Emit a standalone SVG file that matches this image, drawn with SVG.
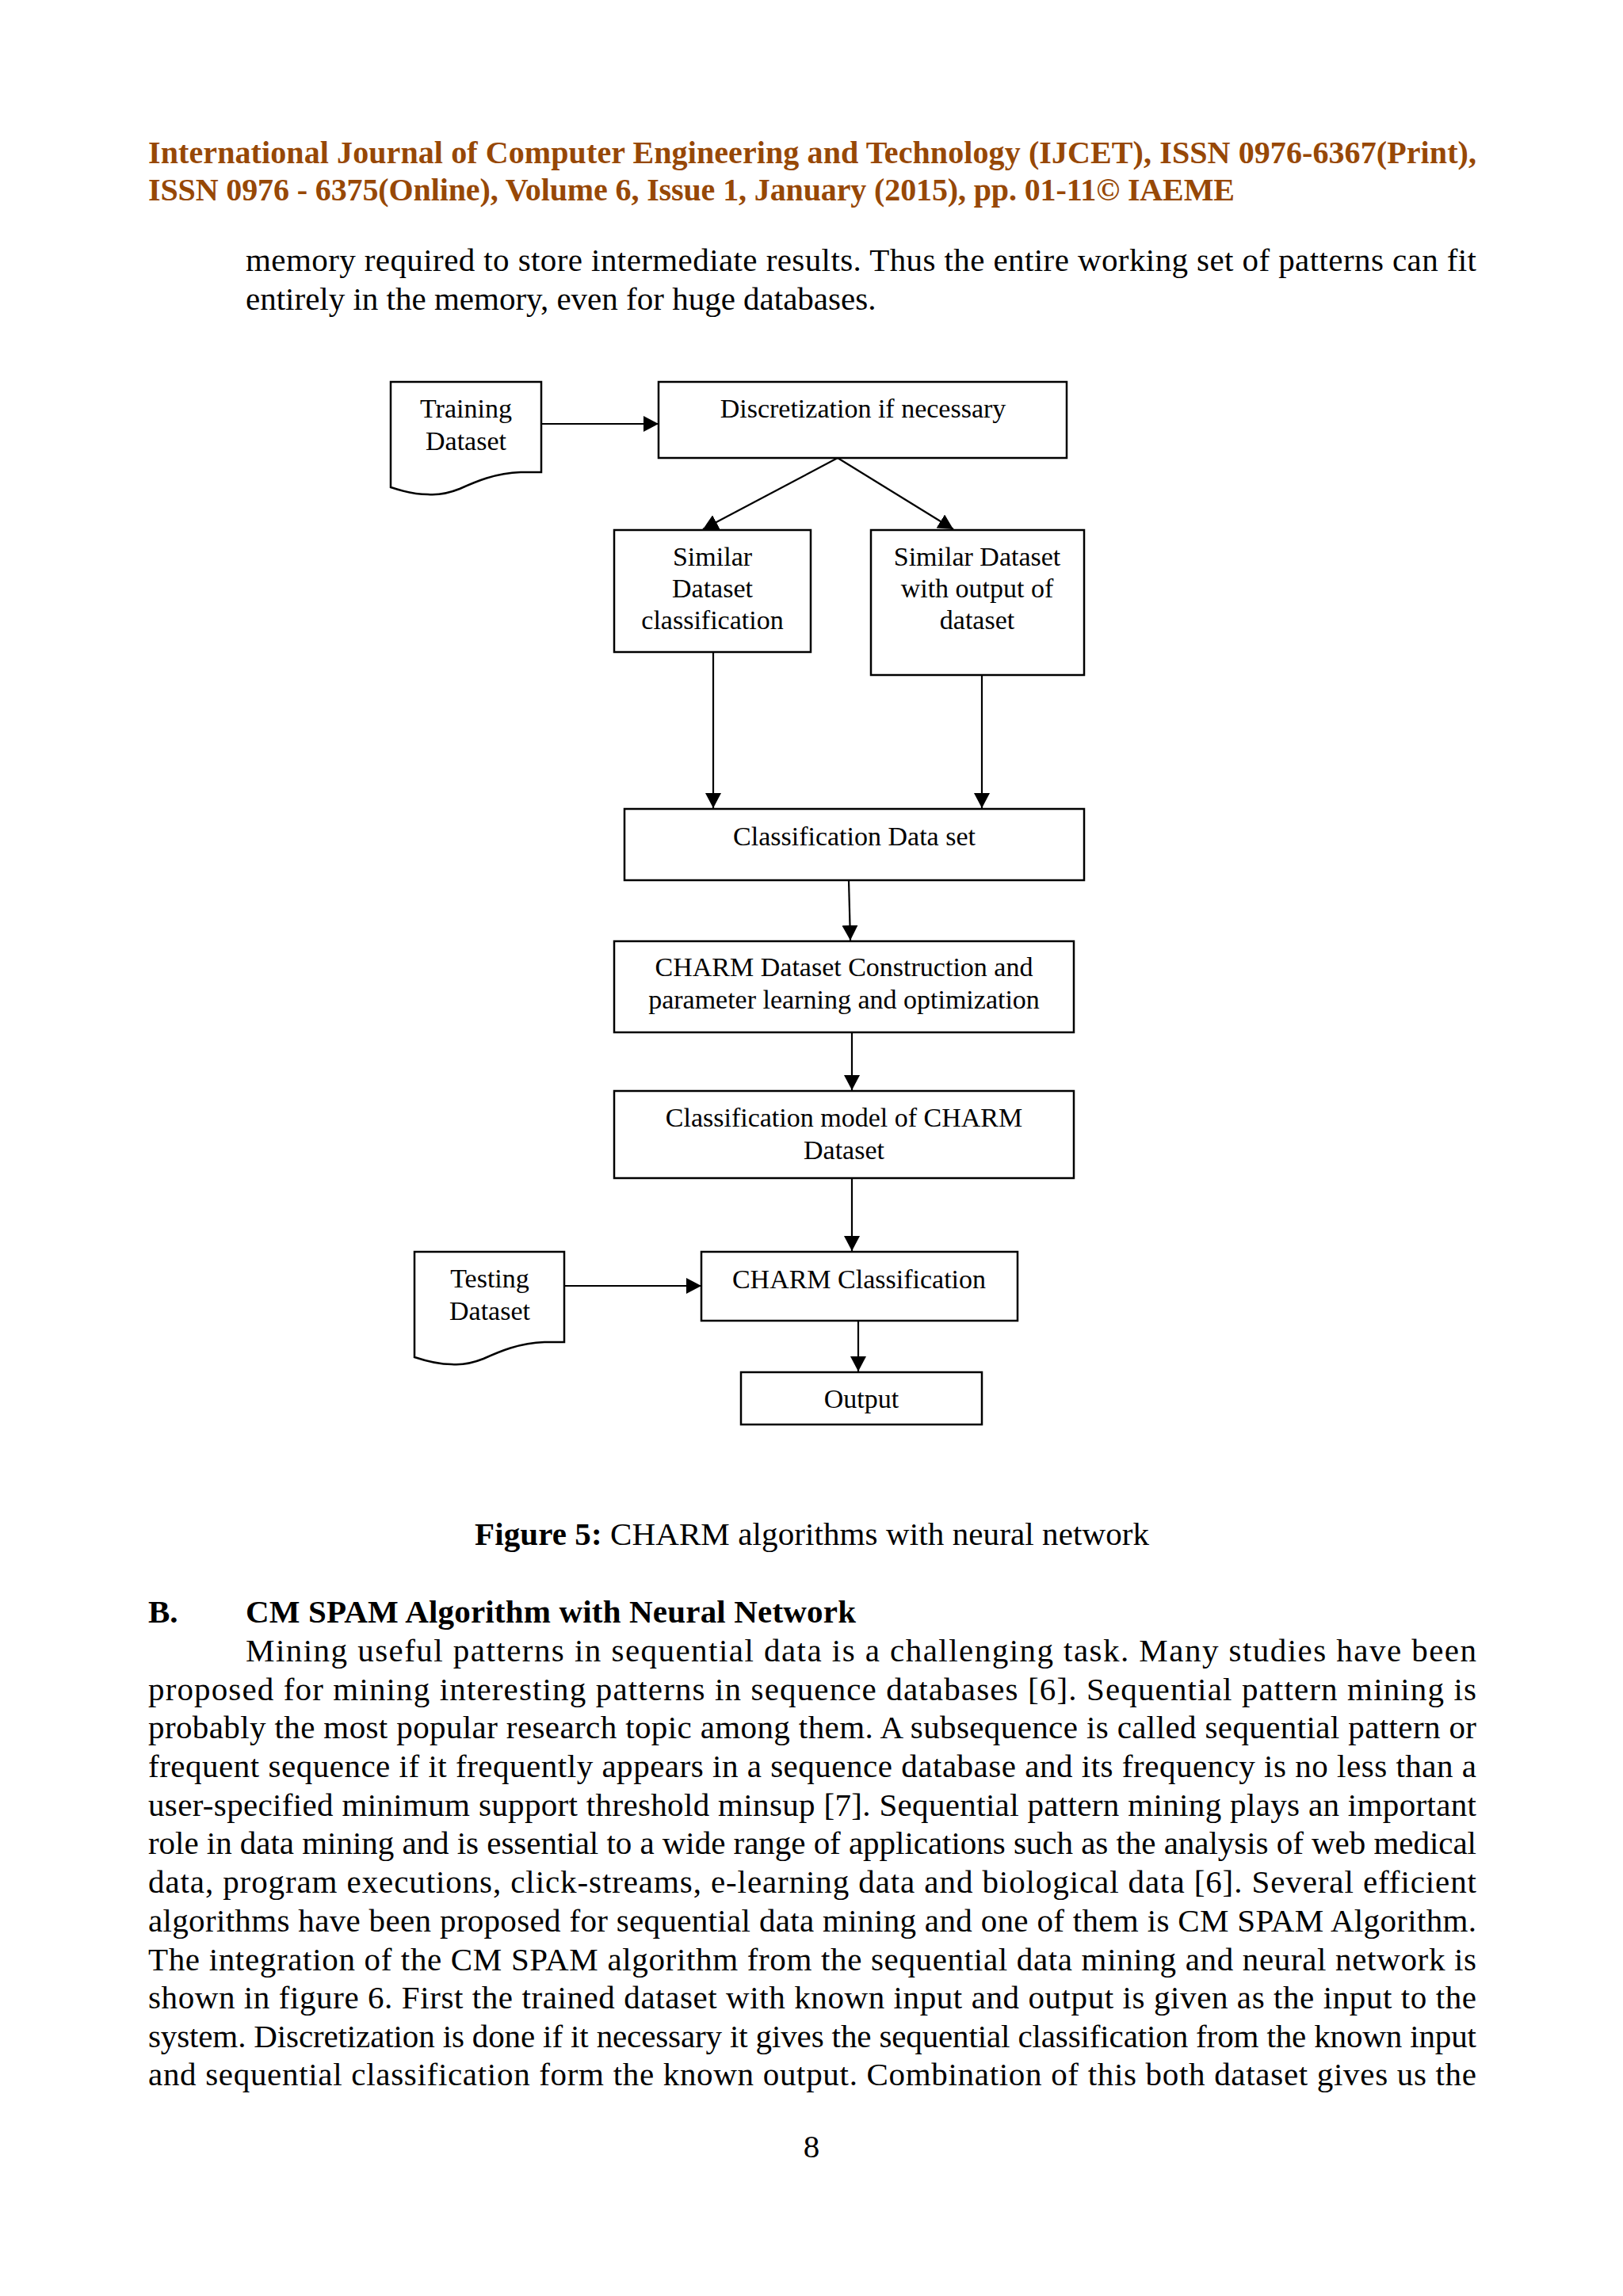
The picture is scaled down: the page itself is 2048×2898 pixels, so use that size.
<svg xmlns="http://www.w3.org/2000/svg" width="2048" height="2898" viewBox="0 0 2048 2898">
<style>
.hdr{font-family:"Liberation Serif","Times New Roman",serif;font-size:40px;font-weight:bold;fill:#974806}
.body{font-family:"Liberation Serif","Times New Roman",serif;font-size:41px;fill:#000}
.b{font-weight:bold}
.lbl{font-family:"Liberation Serif","Times New Roman",serif;font-size:34px;fill:#000;text-anchor:middle}
.box{fill:#fff;stroke:#000;stroke-width:2.5}
.con{fill:none;stroke:#000;stroke-width:2.2}
</style>
<defs>
<marker id="ah" viewBox="0 0 19 20" refX="19" refY="10" markerWidth="19" markerHeight="20" markerUnits="userSpaceOnUse" orient="auto">
<path d="M0,0 L19,10 L0,20 Z" fill="#000"/>
</marker>
</defs>
<rect width="2048" height="2898" fill="#fff"/>

<g id="header">
<text class="hdr" x="187" y="206" textLength="1676" lengthAdjust="spacing">International Journal of Computer Engineering and Technology (IJCET), ISSN 0976-6367(Print),</text>
<text class="hdr" x="187" y="253" textLength="1371" lengthAdjust="spacing">ISSN 0976 - 6375(Online), Volume 6, Issue 1, January (2015), pp. 01-11© IAEME</text>
</g>

<g id="intro-text">
<text class="body" x="310" y="342" textLength="1553" lengthAdjust="spacing">memory required to store intermediate results. Thus the entire working set of patterns can fit</text>
<text class="body" x="310" y="391">entirely in the memory, even for huge databases.</text>
</g>

<g id="connectors">
<line class="con" x1="683" y1="535" x2="831" y2="535" marker-end="url(#ah)"/>
<line class="con" x1="1057" y1="578" x2="887" y2="668" marker-end="url(#ah)"/>
<line class="con" x1="1057" y1="578" x2="1203" y2="668" marker-end="url(#ah)"/>
<line class="con" x1="900" y1="823" x2="900" y2="1020" marker-end="url(#ah)"/>
<line class="con" x1="1239" y1="852" x2="1239" y2="1020" marker-end="url(#ah)"/>
<line class="con" x1="1071" y1="1111" x2="1073" y2="1187" marker-end="url(#ah)"/>
<line class="con" x1="1075" y1="1303" x2="1075" y2="1376" marker-end="url(#ah)"/>
<line class="con" x1="1075" y1="1487" x2="1075" y2="1579" marker-end="url(#ah)"/>
<line class="con" x1="712" y1="1623" x2="885" y2="1623" marker-end="url(#ah)"/>
<line class="con" x1="1083" y1="1667" x2="1083" y2="1731" marker-end="url(#ah)"/>
</g>

<g id="training-dataset">
<path class="box" d="M493,482 H683 V596 H657 C625,597 600,608 580,617 C565,623 552,625 540,624 C525,624 505,619 493,615 Z"/>
<text class="lbl" x="588" y="527">Training</text>
<text class="lbl" x="588" y="568">Dataset</text>
</g>

<g id="discretization">
<rect class="box" x="831" y="482" width="515" height="96"/>
<text class="lbl" x="1089" y="527">Discretization if necessary</text>
</g>

<g id="similar-classification">
<rect class="box" x="775" y="669" width="248" height="154"/>
<text class="lbl" x="899" y="714">Similar</text>
<text class="lbl" x="899" y="754">Dataset</text>
<text class="lbl" x="899" y="794">classification</text>
</g>

<g id="similar-output">
<rect class="box" x="1099" y="669" width="269" height="183"/>
<text class="lbl" x="1233" y="714">Similar Dataset</text>
<text class="lbl" x="1233" y="754">with output of</text>
<text class="lbl" x="1233" y="794">dataset</text>
</g>

<g id="classification-data-set">
<rect class="box" x="788" y="1021" width="580" height="90"/>
<text class="lbl" x="1078" y="1067">Classification Data set</text>
</g>

<g id="charm-construction">
<rect class="box" x="775" y="1188" width="580" height="115"/>
<text class="lbl" x="1065" y="1232">CHARM Dataset Construction and</text>
<text class="lbl" x="1065" y="1273">parameter learning and optimization</text>
</g>

<g id="classification-model">
<rect class="box" x="775" y="1377" width="580" height="110"/>
<text class="lbl" x="1065" y="1422">Classification model of CHARM</text>
<text class="lbl" x="1065" y="1463">Dataset</text>
</g>

<g id="testing-dataset">
<path class="box" d="M523,1580 H712 V1694 H687 C655,1695 630,1706 610,1715 C595,1721 582,1723 570,1722 C555,1722 535,1717 523,1713 Z"/>
<text class="lbl" x="618" y="1625">Testing</text>
<text class="lbl" x="618" y="1666">Dataset</text>
</g>

<g id="charm-classification">
<rect class="box" x="885" y="1580" width="399" height="87"/>
<text class="lbl" x="1084" y="1626">CHARM Classification</text>
</g>

<g id="output">
<rect class="box" x="935" y="1732" width="304" height="66"/>
<text class="lbl" x="1087" y="1777">Output</text>
</g>

<g id="caption">
<text class="body" x="599" y="1950" textLength="851" lengthAdjust="spacing"><tspan class="b">Figure 5:</tspan> CHARM algorithms with neural network</text>
</g>

<g id="section-text">
<text class="body b" x="187" y="2048">B.</text>
<text class="body b" x="310" y="2048" textLength="770" lengthAdjust="spacing">CM SPAM Algorithm with Neural Network</text>
<text class="body" x="310" y="2097" textLength="1553" lengthAdjust="spacing">Mining useful patterns in sequential data is a challenging task. Many studies have been</text>
<text class="body" x="187" y="2146" textLength="1676" lengthAdjust="spacing">proposed for mining interesting patterns in sequence databases [6]. Sequential pattern mining is</text>
<text class="body" x="187" y="2194" textLength="1676" lengthAdjust="spacing">probably the most popular research topic among them. A subsequence is called sequential pattern or</text>
<text class="body" x="187" y="2243" textLength="1676" lengthAdjust="spacing">frequent sequence if it frequently appears in a sequence database and its frequency is no less than a</text>
<text class="body" x="187" y="2292" textLength="1676" lengthAdjust="spacing">user-specified minimum support threshold minsup [7]. Sequential pattern mining plays an important</text>
<text class="body" x="187" y="2340" textLength="1676" lengthAdjust="spacing">role in data mining and is essential to a wide range of applications such as the analysis of web medical</text>
<text class="body" x="187" y="2389" textLength="1676" lengthAdjust="spacing">data, program executions, click-streams, e-learning data and biological data [6]. Several efficient</text>
<text class="body" x="187" y="2438" textLength="1676" lengthAdjust="spacing">algorithms have been proposed for sequential data mining and one of them is CM SPAM Algorithm.</text>
<text class="body" x="187" y="2487" textLength="1676" lengthAdjust="spacing">The integration of the CM SPAM algorithm from the sequential data mining and neural network is</text>
<text class="body" x="187" y="2535" textLength="1676" lengthAdjust="spacing">shown in figure 6. First the trained dataset with known input and output is given as the input to the</text>
<text class="body" x="187" y="2584" textLength="1676" lengthAdjust="spacing">system. Discretization is done if it necessary it gives the sequential classification from the known input</text>
<text class="body" x="187" y="2632" textLength="1676" lengthAdjust="spacing">and sequential classification form the known output. Combination of this both dataset gives us the</text>
</g>

<g id="page-number">
<text class="body" x="1024" y="2723" text-anchor="middle">8</text>
</g>
</svg>
